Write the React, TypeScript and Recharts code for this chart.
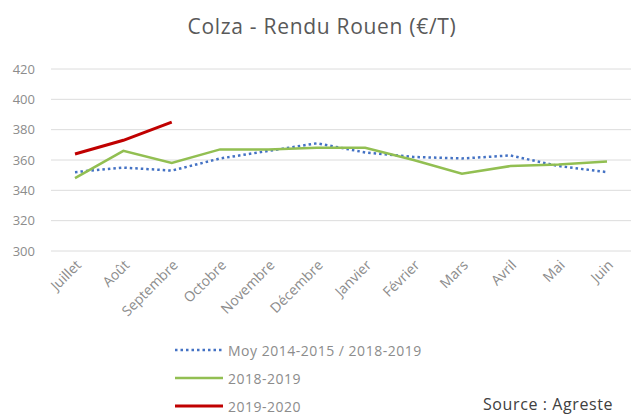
import { LineChart, Line, XAxis, YAxis, CartesianGrid, Legend } from "recharts";

const months = [
  "Juillet", "Août", "Septembre", "Octobre", "Novembre", "Décembre",
  "Janvier", "Février", "Mars", "Avril", "Mai", "Juin",
];
const moyenne = [352, 355, 353, 361, 366, 371, 365, 362, 361, 363, 356, 352];
const campagne1819 = [348, 366, 358, 367, 367, 368, 368, 360, 351, 356, 357, 359];
const campagne1920 = [364, 373, 385];
const yTicks = [300, 320, 340, 360, 380, 400, 420];

const series = [
  { key: "moy", name: "Moy 2014-2015 / 2018-2019", color: "#4472c4", dash: "2.5 3", width: 2.5 },
  { key: "c1819", name: "2018-2019", color: "#92bf52", dash: undefined, width: 2.5 },
  { key: "c1920", name: "2019-2020", color: "#c00000", dash: undefined, width: 3 },
];

const data = months.map((m, i) => ({
  month: m,
  moy: moyenne[i],
  c1819: campagne1819[i],
  c1920: campagne1920[i],
}));

const FONT = "'Open Sans', 'DejaVu Sans', sans-serif";
const LABEL = "#8c8c8c";

function LegendBox() {
  return (
    <div style={{ fontFamily: FONT, fontSize: 14, letterSpacing: 0.5, color: LABEL }}>
      {series.map((s) => (
        <div key={s.key} style={{ display: "flex", alignItems: "center", height: 28 }}>
          <svg width={50} height={6} style={{ marginRight: 4 }}>
            <line
              x1={1}
              y1={3}
              x2={49}
              y2={3}
              stroke={s.color}
              strokeWidth={s.width}
              strokeDasharray={s.dash}
            />
          </svg>
          <span>{s.name}</span>
        </div>
      ))}
    </div>
  );
}

export default function App() {
  return (
    <div style={{ position: "absolute", left: 0, top: 0, width: 633, height: 414, background: "#fff", overflow: "hidden" }}>
      <div
        style={{
          position: "absolute",
          top: 12,
          left: 0,
          width: 644,
          textAlign: "center",
          fontFamily: FONT,
          fontSize: 21,
          letterSpacing: 0.7,
          color: "#595959",
        }}
      >
        Colza - Rendu Rouen (€/T)
      </div>
      <LineChart
        width={633}
        height={414}
        data={data}
        margin={{ top: 69, right: 2, left: 0, bottom: 0 }}
      >
        <CartesianGrid vertical={false} stroke="#dcdcdc" />
        <XAxis
          dataKey="month"
          interval={0}
          axisLine={false}
          tickLine={false}
          angle={-45}
          textAnchor="end"
          height={163}
          padding={{ left: 24, right: 24 }}
          tick={{ fontSize: 14, fill: LABEL, fontFamily: FONT }}
        />
        <YAxis
          domain={[300, 420]}
          ticks={yTicks}
          width={51}
          axisLine={false}
          tickLine={false}
          tickMargin={10}
          tick={{ fontSize: 13, fill: LABEL, fontFamily: FONT }}
        />
        {series.map((s) => (
          <Line
            key={s.key}
            type="linear"
            dataKey={s.key}
            name={s.name}
            stroke={s.color}
            strokeWidth={s.width}
            strokeDasharray={s.dash}
            dot={false}
            isAnimationActive={false}
          />
        ))}
        <Legend
          layout="vertical"
          verticalAlign="middle"
          align="center"
          content={<LegendBox />}
          wrapperStyle={{ top: 336, left: 174, width: 280 }}
        />
      </LineChart>
      <div
        style={{
          position: "absolute",
          left: 483,
          top: 393,
          fontFamily: FONT,
          fontSize: 16,
          letterSpacing: 0.6,
          color: "#404040",
        }}
      >
        Source : Agreste
      </div>
    </div>
  );
}
